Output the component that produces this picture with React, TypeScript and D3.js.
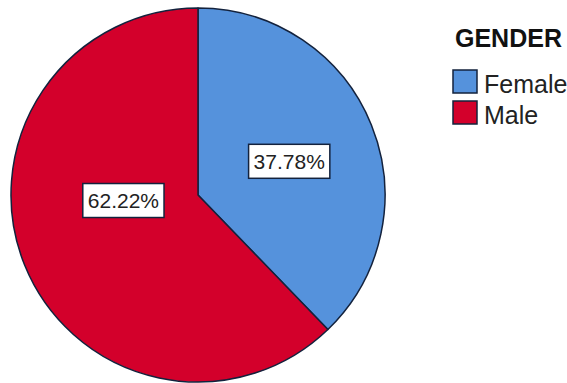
import React, { useEffect, useRef } from "react";
import * as d3 from "d3";

const categories = ["Female", "Male"];
const values = [37.78, 62.22];
const colors = ["#5592dc", "#d3002b"];
const legendTitle = "GENDER";
// label placement tweak per slice (fraction of radius, angle shift in radians)
const labelRadiusFrac = [0.52, 0.4];
const labelAngleShift = [0.03, 0.31];

export default function App() {
  const ref = useRef<SVGSVGElement>(null);
  const W = 567, H = 383;
  const cx = 198, cy = 195, R = 187;

  useEffect(() => {
    const svg = d3.select(ref.current);
    svg.selectAll("*").remove();
    const data = categories.map((c, i) => ({ c, v: values[i], i }));
    const pie = d3.pie<any>().value((d) => d.v).sort(null);
    const arcs = pie(data);
    const arc = d3.arc<any>().innerRadius(0).outerRadius(R);
    const g = svg.append("g").attr("transform", `translate(${cx},${cy})`);
    g.selectAll("path.slice")
      .data(arcs)
      .enter()
      .append("path")
      .attr("d", arc as any)
      .attr("fill", (d: any) => colors[d.index])
      .attr("stroke", "#13223d")
      .attr("stroke-width", 1.5)
      .attr("stroke-linejoin", "round");

    arcs.forEach((a: any) => {
      const mid = (a.startAngle + a.endAngle) / 2 + labelAngleShift[a.index];
      const r = R * labelRadiusFrac[a.index];
      const x = r * Math.sin(mid);
      const y = -r * Math.cos(mid);
      const lg = g.append("g");
      const rect = lg.append("rect");
      const t = lg
        .append("text")
        .attr("x", x)
        .attr("y", y)
        .attr("text-anchor", "middle")
        .attr("dominant-baseline", "central")
        .attr("font-family", "Liberation Sans, Arial, sans-serif")
        .attr("font-size", 21)
        .attr("fill", "#222")
        .text(`${values[a.index].toFixed(2)}%`);
      const bb = (t.node() as SVGTextElement).getBBox();
      rect
        .attr("x", bb.x - 5)
        .attr("y", y - 17)
        .attr("width", bb.width + 10)
        .attr("height", 34)
        .attr("fill", "#fff")
        .attr("stroke", "#13223d")
        .attr("stroke-width", 1.5);
    });

    const lgd = svg.append("g");
    lgd
      .append("text")
      .attr("x", 455)
      .attr("y", 47)
      .attr("font-family", "Liberation Sans, Arial, sans-serif")
      .attr("font-weight", "bold")
      .attr("font-size", 25)
      .attr("fill", "#111")
      .text(legendTitle);
    categories.forEach((c, i) => {
      const y0 = 70 + i * 31;
      lgd
        .append("rect")
        .attr("x", 453)
        .attr("y", y0)
        .attr("width", 24)
        .attr("height", 23)
        .attr("fill", colors[i])
        .attr("stroke", "#13223d")
        .attr("stroke-width", 1.5);
      lgd
        .append("text")
        .attr("x", 484)
        .attr("y", y0 + 23)
        .attr("font-family", "Liberation Sans, Arial, sans-serif")
        .attr("font-size", 25)
        .attr("fill", "#222")
        .text(c);
    });
  }, []);

  return (
    <svg
      ref={ref}
      width={W}
      height={H}
      style={{ position: "absolute", left: 0, top: 0, background: "#fff" }}
    />
  );
}
